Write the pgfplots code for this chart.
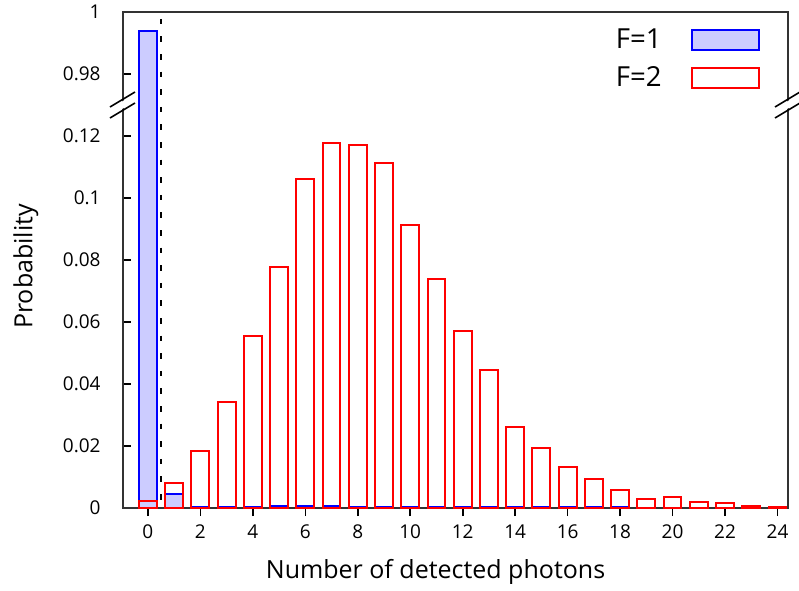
\documentclass[border=0pt]{standalone}
\usepackage{fontspec}
\setmainfont{Open Sans}
\usepackage{pgfplots}
\usepackage{pgfplotstable}
\pgfplotsset{compat=1.18}

\definecolor{fonefill}{RGB}{204,204,255}
\pgfplotsset{boxlegend/.style={legend image code/.code={\draw[##1] (0pt,-5pt) rectangle (33.5pt,5pt);}}}

% photon-count histograms; values above the break (>0.5) are shifted down by 0.84
\pgfplotstableread{
n   p
0   0.994
1   0.0045
2   0.0002
3   0.0002
4   0.0002
5   0.0006
6   0.0006
7   0.0006
8   0.0002
9   0.0002
10  0.0002
11  0.0002
12  0.0002
13  0.0002
14  0.0002
15  0.0002
16  0.0002
17  0.0002
18  0.0002
}\Fone

\pgfplotstableread{
n   p
0   0.0024
1   0.0082
2   0.0185
3   0.0341
4   0.0555
5   0.0777
6   0.1060
7   0.1178
8   0.1170
9   0.1112
10  0.0914
11  0.0738
12  0.0570
13  0.0444
14  0.0262
15  0.0195
16  0.0132
17  0.0093
18  0.0057
19  0.0030
20  0.0035
21  0.0018
22  0.0016
23  0.0005
24  0.0004
}\Ftwo

\begin{document}
\begin{tikzpicture}
\path[use as bounding box] (-61.5pt,-41pt) rectangle (338pt,254pt);
\begin{axis}[
    at={(0,0)}, anchor=south west,
    scale only axis,
    width=332.5pt, height=248pt,
    ybar, bar width=0.68, bar shift=0pt,
    xmin=-0.95, xmax=24.4,
    ymin=0, ymax=0.16,
    xtick={0,2,...,24},
    xticklabels={0,2,4,6,8,10,12,14,16,18,20,22,24},
    ytick={0,0.02,0.04,0.06,0.08,0.10,0.12,0.14,0.16},
    yticklabels={0,0.02,0.04,0.06,0.08,0.1,0.12,0.98,1},
    tick pos=left,
    major tick length=4pt,
    axis line style={black!80, line width=0.8pt},
    tick style={black, line width=0.8pt},
    tick label style={font=\fontsize{9.5}{11}\selectfont, inner sep=0pt},
    xticklabel style={yshift=-4pt},
    yticklabel style={anchor=east, xshift=-11pt},
    xlabel={Number of detected photons},
    ylabel={Probability},
    label style={font=\fontsize{12.5}{15}\selectfont},
    xlabel style={at={(axis description cs:0.47,-0.129)}, anchor=center},
    ylabel style={at={(axis description cs:-0.146,0.487)}, anchor=center},
    legend plot pos=right,
    legend style={draw=none, fill=none, at={(rel axis cs:1,1)}, anchor=north east,
      xshift=-14pt, yshift=-8pt, inner sep=0pt, column sep=14.5pt, row sep=7.5pt,
      font=\fontsize{13.8}{16}\selectfont, nodes={inner sep=0pt}},
    clip=false,
  ]
  \addplot[draw=blue, fill=fonefill, line width=1pt, boxlegend,
    y filter/.expression={y>0.5 ? y-0.84 : y}]
    table[x=n, y=p] {\Fone};
  \addlegendentry{F=1}
  \addplot[draw=red, fill=none, line width=1pt, boxlegend]
    table[x=n, y=p] {\Ftwo};
  \addlegendentry{F=2}
  \addplot[sharp plot, black, line width=1pt, dash pattern=on 2.8pt off 6pt, forget plot]
    coordinates {(0.5,0.1578) (0.5,0)};
\end{axis}
% axis break marks
\fill[white] (-6.5pt,199.6pt) -- (6pt,207.1pt) -- (6pt,203.4pt) -- (-6.5pt,195.9pt) -- cycle;
\draw[black, line width=0.8pt] (-6.5pt,200.5pt) -- (6pt,208pt) (-6.5pt,195pt) -- (6pt,202.5pt);
\fill[white] (326pt,199.6pt) -- (338.5pt,207.1pt) -- (338.5pt,203.4pt) -- (326pt,195.9pt) -- cycle;
\draw[black, line width=0.8pt] (326pt,200.5pt) -- (338.5pt,208pt) (326pt,195pt) -- (338.5pt,202.5pt);
\end{tikzpicture}
\end{document}
